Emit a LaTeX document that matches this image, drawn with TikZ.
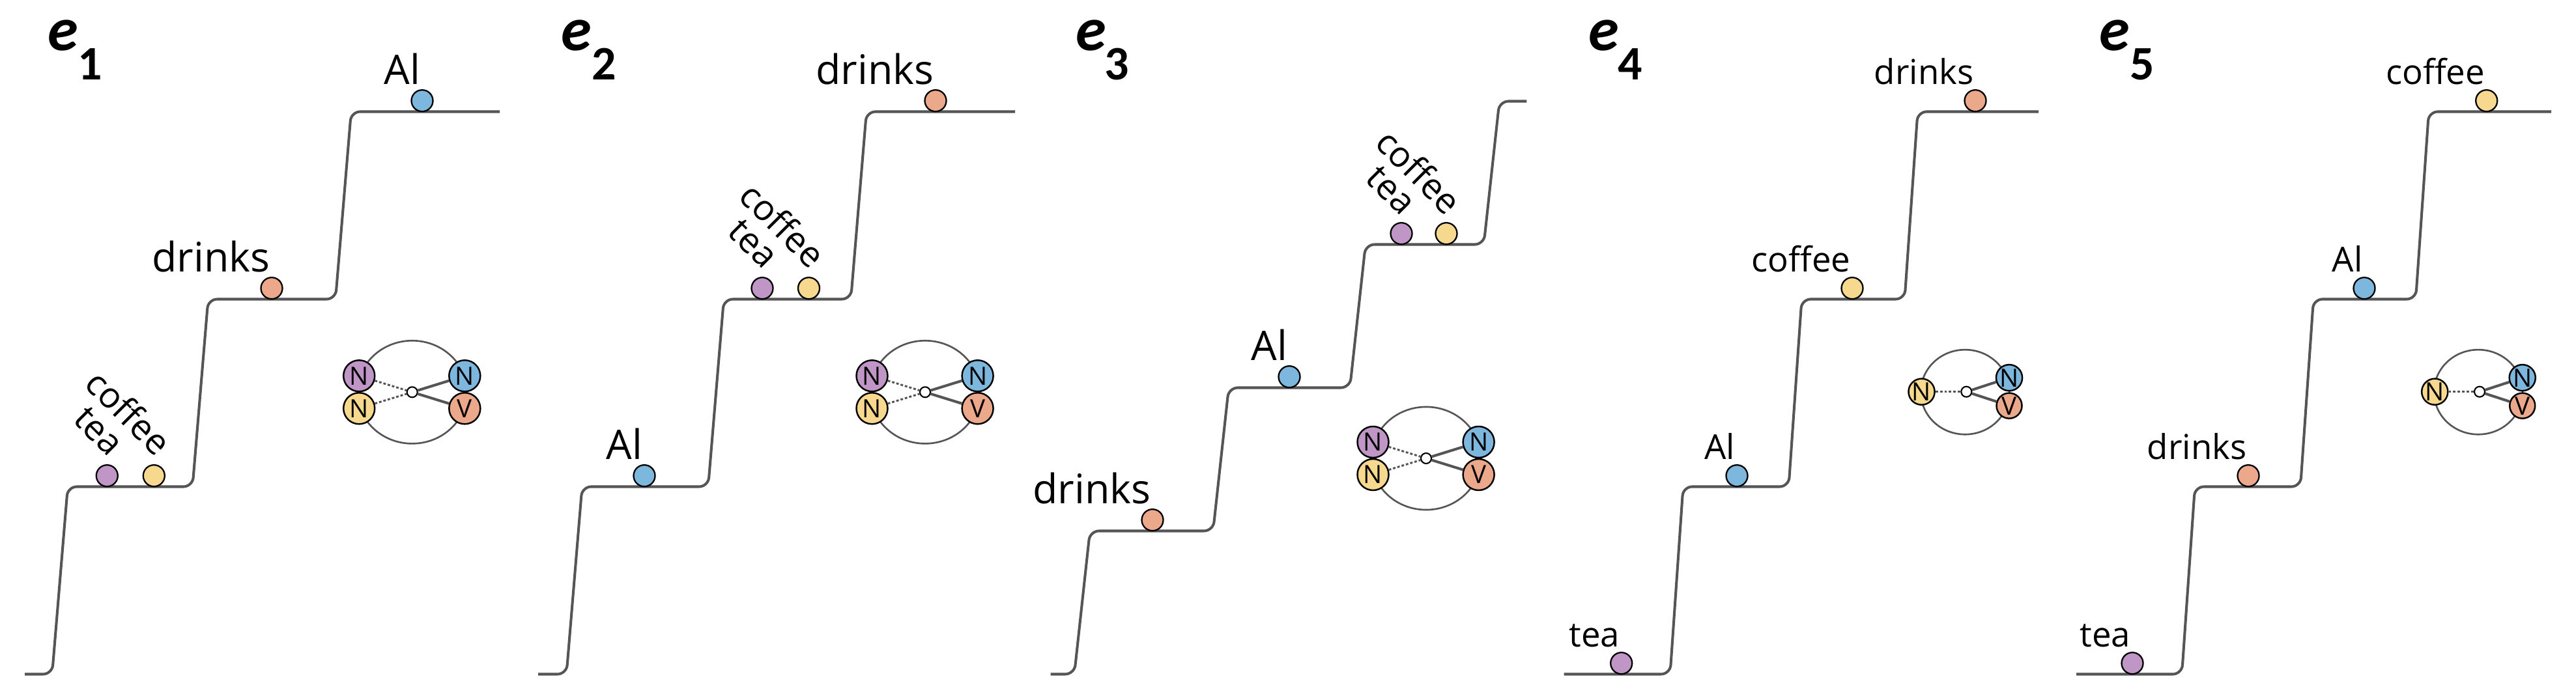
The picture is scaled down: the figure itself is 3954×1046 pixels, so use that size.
\documentclass[tikz,border=0pt]{standalone}
\usepackage{fontspec}
\setmainfont{Open Sans}
\newfontfamily\elabfont{Carlito}
\usetikzlibrary{calc}
\definecolor{cpur}{HTML}{BF96C6}
\definecolor{cyel}{HTML}{F6D88E}
\definecolor{cblu}{HTML}{7EB7DE}
\definecolor{cora}{HTML}{EBA88A}
\definecolor{lgray}{HTML}{555555}
\tikzset{
  stairline/.style={draw=lgray, line width=1.15pt, rounded corners=0.14cm},
  ball/.style={circle, draw=black, line width=0.65pt, minimum size=0.33cm, inner sep=0pt},
  hlab/.style={anchor=base east, inner sep=0pt, font=\fontsize{17.8}{20}\selectfont},
  slab/.style={anchor=base east, inner sep=0pt, font=\fontsize{15}{17}\selectfont},
  rlab/.style={anchor=base east, inner sep=0pt, rotate=-45, font=\fontsize{15.5}{18}\selectfont},
  elab/.style={anchor=base west, inner sep=0pt, font=\elabfont\bfseries\itshape\fontsize{27}{30}\selectfont},
  esub/.style={anchor=base west, inner sep=0pt, font=\elabfont\bfseries\fontsize{21}{24}\selectfont},
  gnode/.style={circle, draw=black, line width=0.7pt, minimum size=0.48cm, inner sep=0pt, font=\fontsize{11}{12}\selectfont},
  gnodesm/.style={gnode, minimum size=0.39cm},
  hub/.style={circle, draw=black, fill=white, line width=0.6pt, minimum size=0.16cm, inner sep=0pt},
  ring/.style={draw=lgray, line width=0.75pt},
  dotlink/.style={draw=lgray, line width=0.85pt, dash pattern=on 1.1pt off 0.85pt},
  solidlink/.style={draw=lgray, line width=1.15pt}
}
\newcommand{\graphfour}[3]{%
  \draw[ring] (#2,#3) ellipse [x radius=0.84cm, y radius=0.79cm];
  \node[gnode, fill=cpur] (#1pn) at (#2-81.5,#3-25) {N};
  \node[gnode, fill=cyel] (#1yn) at (#2-81.5,#3+25) {N};
  \node[gnode, fill=cblu] (#1bn) at (#2+80.6,#3-25) {N};
  \node[gnode, fill=cora] (#1ov) at (#2+80.6,#3+25) {V};
  \node[hub] (#1h) at (#2,#3) {};
  \draw[dotlink] (#1pn) -- (#1h);
  \draw[dotlink] (#1yn) -- (#1h);
  \draw[solidlink] (#1h) -- (#1bn);
  \draw[solidlink] (#1h) -- (#1ov);
}
\newcommand{\graphthree}[3]{%
  \draw[ring] (#2-2,#3+0.5) ellipse [x radius=0.68cm, y radius=0.65cm];
  \node[gnodesm, fill=cyel] (#1yn) at (#2-68.8,#3) {N};
  \node[gnodesm, fill=cora] (#1ov) at (#2+65.7,#3+21.5) {V};
  \node[gnodesm, fill=cblu] (#1bn) at (#2+65.7,#3-21.5) {N};
  \node[hub] (#1h) at (#2,#3) {};
  \draw[dotlink] (#1yn) -- (#1h);
  \draw[solidlink] (#1h) -- (#1bn);
  \draw[solidlink] (#1h) -- (#1ov);
}
\begin{document}
\begin{tikzpicture}[x=0.01cm, y=-0.01cm]
\useasboundingbox (0,0) rectangle (3954,1046);

% ---------------- panel e1 ----------------
\node[elab] (e1e) at (72.7,77.5) {e};
\node[esub] (e1s) at (119,122.7) {1};
\draw[stairline] (38,1035.5) -- (80,1035.5) -- (104,747.5) -- (295.5,747.5) -- (319.5,459.5)
  -- (515,459.5) -- (539,171.5) -- (767,171.5);
\node[ball, fill=cpur] (p1t) at (164.3,730.7) {};
\node[ball, fill=cyel] (p1c) at (236.3,730.7) {};
\node[ball, fill=cora] (p1d) at (417,442.7) {};
\node[ball, fill=cblu] (p1a) at (648,154.7) {};
\node[rlab] (p1tL) at ($(p1t)+(3,-27)$) {tea};
\node[rlab] (p1cL) at ($(p1c)+(3,-27)$) {coffee};
\node[hlab] (p1dL) at ($(p1d)+(-2,-25)$) {drinks};
\node[hlab] (p1aL) at ($(p1a)+(-2,-25)$) {Al};
\graphfour{g1}{632.7}{602.3}

% ---------------- panel e2 ----------------
\node[elab] (e2e) at (860.6,77.5) {e};
\node[esub] (e2s) at (908,122.7) {2};
\draw[stairline] (826,1035.5) -- (869.5,1035.5) -- (893.5,747.5) -- (1087,747.5) -- (1111,459.5)
  -- (1306,459.5) -- (1330,171.5) -- (1558,171.5);
\node[ball, fill=cblu] (p2a) at (989,730.7) {};
\node[ball, fill=cpur] (p2t) at (1170,442.7) {};
\node[ball, fill=cyel] (p2c) at (1241.5,442.7) {};
\node[ball, fill=cora] (p2d) at (1436,154.7) {};
\node[hlab] (p2aL) at ($(p2a)+(-2,-25)$) {Al};
\node[rlab] (p2tL) at ($(p2t)+(2,-27)$) {tea};
\node[rlab] (p2cL) at ($(p2c)+(2,-27)$) {coffee};
\node[hlab] (p2dL) at ($(p2d)+(-2,-25)$) {drinks};
\graphfour{g2}{1420}{602.3}

% ---------------- panel e3 ----------------
\node[elab] (e3e) at (1650.6,77.5) {e};
\node[esub] (e3s) at (1695,122.7) {3};
\draw[stairline] (1612.6,1035.5) -- (1649,1035.5) -- (1673,815.5) -- (1862,815.5) -- (1886,595.5)
  -- (2072,595.5) -- (2096,375.5) -- (2277.5,375.5) -- (2301.5,155.5) -- (2343.3,155.5);
\node[ball, fill=cora] (p3d) at (1769,798.7) {};
\node[ball, fill=cblu] (p3a) at (1979,578.7) {};
\node[ball, fill=cpur] (p3t) at (2151,358.7) {};
\node[ball, fill=cyel] (p3c) at (2220,358.7) {};
\node[hlab] (p3dL) at ($(p3d)+(-2,-25)$) {drinks};
\node[hlab] (p3aL) at ($(p3a)+(-2,-25)$) {Al};
\node[rlab] (p3tL) at ($(p3t)+(0,-25)$) {tea};
\node[rlab] (p3cL) at ($(p3c)+(0,-25)$) {coffee};
\graphfour{g3}{2189}{704}

% ---------------- panel e4 ----------------
\node[elab] (e4e) at (2437.5,77.5) {e};
\node[esub] (e4s) at (2482.7,122.7) {4};
\draw[stairline] (2400.5,1035.5) -- (2563.5,1035.5) -- (2583.5,747.5) -- (2745.5,747.5) -- (2765.5,459.5)
  -- (2923.5,459.5) -- (2943.5,171.5) -- (3129,171.5);
\node[ball, fill=cpur] (p4t) at (2488.7,1018.7) {};
\node[ball, fill=cblu] (p4a) at (2666,730.7) {};
\node[ball, fill=cyel] (p4c) at (2843,442.7) {};
\node[ball, fill=cora] (p4d) at (3032,154.7) {};
\node[slab] (p4tL) at ($(p4t)+(-2,-25)$) {tea};
\node[slab] (p4aL) at ($(p4a)+(-2,-25)$) {Al};
\node[slab] (p4cL) at ($(p4c)+(-2,-25)$) {coffee};
\node[slab] (p4dL) at ($(p4d)+(-2,-25)$) {drinks};
\graphthree{g4}{3018.3}{601.7}

% ---------------- panel e5 ----------------
\node[elab] (e5e) at (3222,77.5) {e};
\node[esub] (e5s) at (3269,122.7) {5};
\draw[stairline] (3187,1035.5) -- (3349,1035.5) -- (3369,747.5) -- (3531,747.5) -- (3551,459.5)
  -- (3708,459.5) -- (3728,171.5) -- (3916,171.5);
\node[ball, fill=cpur] (p5t) at (3273,1018.7) {};
\node[ball, fill=cora] (p5d) at (3451,730.7) {};
\node[ball, fill=cblu] (p5a) at (3629,442.7) {};
\node[ball, fill=cyel] (p5c) at (3816.7,154.7) {};
\node[slab] (p5tL) at ($(p5t)+(-2,-25)$) {tea};
\node[slab] (p5dL) at ($(p5d)+(-2,-25)$) {drinks};
\node[slab] (p5aL) at ($(p5a)+(-2,-25)$) {Al};
\node[slab] (p5cL) at ($(p5c)+(-2,-25)$) {coffee};
\graphthree{g5}{3806}{601.7}
\end{tikzpicture}
\end{document}
